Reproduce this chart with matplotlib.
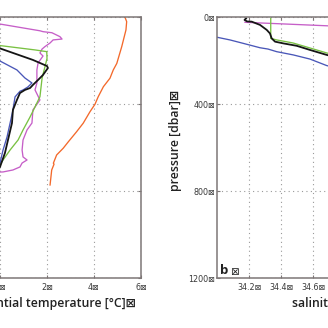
import matplotlib
matplotlib.use("Agg")
import matplotlib.pyplot as plt

# ---------- data: left panel (potential temperature vs pressure) ----------
orange_T = [5.32, 5.39, 5.36, 5.18, 4.97, 4.82, 4.68, 4.40, 4.18, 4.04, 3.83, 3.54,
            3.26, 2.91, 2.69, 2.41, 2.27, 2.30, 2.20, 2.13]
orange_P = [0, 20, 58, 135, 212, 242, 280, 319, 365, 400, 434, 487,
            526, 572, 602, 633, 671, 675, 702, 771]

magenta_T = [-1.4, 0.0, 1.70, 1.83, 2.21, 2.55, 2.64, 2.26, 2.13, 1.91, 1.79, 1.70, 1.83,
             1.62, 1.57, 1.57, 1.49, 1.70, 1.40, 1.36, 1.15, 0.98, 0.94, 0.98, 1.15,
             0.94, 0.85, 0.55, 0.13, -1.5]
magenta_P = [5, 31, 62, 66, 71, 89, 100, 104, 118, 135, 146, 164, 178,
             210, 242, 302, 334, 380, 426, 486, 518, 564, 610, 642, 656,
             670, 688, 702, 711, 718]

green_T = [-1.6, 0.0, 1.49, 1.99, 2.0, 1.79, 1.70, 1.49, 1.28, 0.98, 0.77, 0.43, 0.13, -0.5]
green_P = [60, 130, 150, 158, 190, 280, 365, 412, 458, 518, 564, 610, 656, 760]

black_T = [-1.8, 0.0, 1.40, 2.0, 2.04, 1.83, 1.62, 1.40, 1.28, 1.06, 0.85, 0.72,
           0.55, 0.51, 0.34, 0.21, 0.0, -0.6]
black_P = [40, 143, 196, 224, 233, 265, 288, 311, 325, 334, 348, 380,
           426, 486, 564, 624, 688, 800]

blue_T = [-1.8, 0.0, 0.72, 1.06, 1.36, 1.19, 0.98, 0.85, 0.64, 0.55, 0.43, 0.30, 0.13, 0.0, -0.5]
blue_P = [100, 201, 242, 279, 302, 320, 334, 340, 366, 426, 486, 550, 610, 670, 780]

# ---------- data: right panel (salinity vs pressure) ----------
magenta_S = [34.173, 34.684, 35.0]
magenta_SP = [23, 39, 49]

black_S = [34.18, 34.17, 34.186, 34.215, 34.267, 34.309, 34.329, 34.34, 34.361,
           34.413, 34.496, 34.579, 34.684, 34.9]
black_SP = [5, 12, 19, 20, 35, 58, 74, 97, 112, 120, 131, 150, 173, 210]

green_S = [34.334, 34.334, 34.371, 34.473, 34.579, 34.684, 34.9]
green_SP = [5, 97, 104, 118, 141, 164, 200]

blue_S = [33.95, 34.0, 34.079, 34.163, 34.267, 34.317, 34.371, 34.475, 34.579,
          34.621, 34.684, 34.9]
blue_SP = [90, 92, 104, 120, 140, 146, 158, 173, 192, 204, 222, 260]

temp_ticks = [0, 2, 4, 6]
sal_ticks = [34.2, 34.4, 34.6]
pres_ticks = [0, 400, 800, 1200]

BOX = "\u22a0"
C_ORANGE = "#f3692b"
C_MAGENTA = "#c65fc8"
C_GREEN = "#79c142"
C_BLACK = "#151515"
C_BLUE = "#4a57b8"
SPINE = "#7d7676"
GRID = "#9a9a9a"

W = H = 328.0
fig = plt.figure(figsize=(3.28, 3.28), dpi=100)
fig.patch.set_facecolor("white")


def px_axes(x0, x1, ytop, ybot):
    return fig.add_axes([x0 / W, (H - ybot) / H, (x1 - x0) / W, (ybot - ytop) / H])


ax1 = px_axes(-47, 141, 17.3, 278.3)
ax2 = px_axes(217.3, 409.3, 17.3, 278.3)

lw = 0.95
ax1.plot(orange_T, orange_P, color=C_ORANGE, lw=lw)
ax1.plot(magenta_T, magenta_P, color=C_MAGENTA, lw=lw)
ax1.plot(green_T, green_P, color=C_GREEN, lw=lw)
ax1.plot(blue_T, blue_P, color=C_BLUE, lw=lw)
ax1.plot(black_T, black_P, color=C_BLACK, lw=1.3)
ax1.set_xlim(-2, 6)

ax2.plot(magenta_S, magenta_SP, color=C_MAGENTA, lw=lw)
ax2.plot(blue_S, blue_SP, color=C_BLUE, lw=lw)
ax2.plot(green_S, green_SP, color=C_GREEN, lw=lw)
ax2.plot(black_S, black_SP, color=C_BLACK, lw=1.3)
ax2.set_xlim(34.0, 35.2)

tick_font = dict(family=["DejaVu Sans"], size=5.8, color="#3a3a3a")
for ax, xt in ((ax1, temp_ticks), (ax2, sal_ticks)):
    ax.set_ylim(1200, 0)
    ax.set_yticks(pres_ticks)
    ax.set_yticklabels([f"{v}{BOX}" for v in pres_ticks], **tick_font)
    ax.set_xticks(xt)
    ax.set_xticklabels([f"{v:g}{BOX}" for v in xt], **tick_font)
    ax.tick_params(direction="in", length=2.5, width=0.8, color=SPINE,
                   top=True, right=True)
    ax.tick_params(axis="y", pad=1.5)
    ax.tick_params(axis="x", pad=3.5)
    ax.grid(True, linestyle=(0, (1, 3)), color=GRID, linewidth=0.8)
    for s in ax.spines.values():
        s.set_color(SPINE)
        s.set_linewidth(1.1)

lab_font = dict(family=["Open Sans", "DejaVu Sans"], size=8.8, weight="semibold",
                color="#222222")
ax1.set_xlabel("potential temperature [\u00b0C]" + BOX, **lab_font)
ax1.xaxis.set_label_coords((136 + 47) / 188, -0.07)
ax1.xaxis.label.set_ha("right")

ax2.set_xlabel("salinity [psu]" + BOX, **lab_font)
ax2.xaxis.set_label_coords((292 - 217.3) / 192, -0.07)
ax2.xaxis.label.set_ha("left")

ax2.set_ylabel("pressure [dbar]" + BOX, **lab_font)
ax2.yaxis.set_label_coords(-(217.3 - 182) / 192, 0.53)

ax2.text(0.015, 0.005, "b", transform=ax2.transAxes, ha="left", va="bottom",
         family=["Open Sans", "DejaVu Sans"], weight="bold", size=9.5, color="#222222")
ax2.text(0.065, 0.005, BOX, transform=ax2.transAxes, ha="left", va="bottom",
         family=["DejaVu Sans"], size=7.5, color="#222222")

fig.savefig("out.png", dpi=100)
